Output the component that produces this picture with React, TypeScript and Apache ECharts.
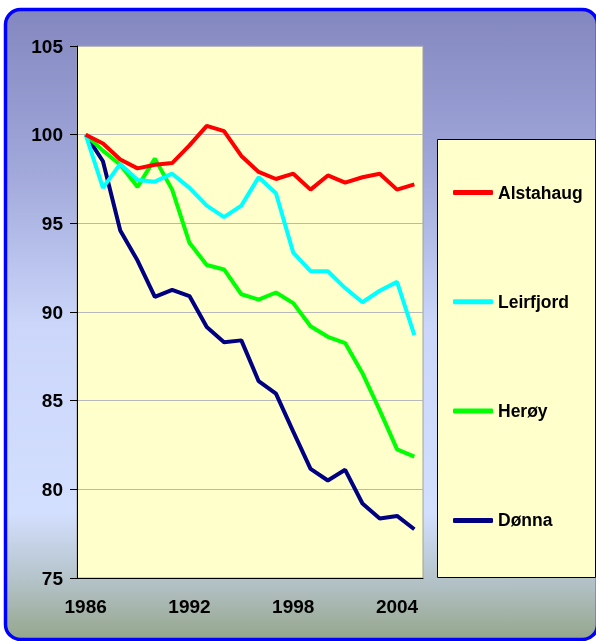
import React, { useEffect, useRef } from "react";
import * as echarts from "echarts";

const years = [
  "1986", "1987", "1988", "1989", "1990", "1991", "1992", "1993", "1994", "1995",
  "1996", "1997", "1998", "1999", "2000", "2001", "2002", "2003", "2004", "2005",
];

const alstahaug = [100, 99.5, 98.6, 98.1, 98.3, 98.4, 99.4, 100.5, 100.2, 98.8, 97.9, 97.5, 97.8, 96.9, 97.7, 97.3, 97.6, 97.8, 96.9, 97.2];
const leirfjord = [100, 97.0, 98.35, 97.45, 97.35, 97.8, 97.0, 96.0, 95.35, 96.0, 97.6, 96.7, 93.35, 92.3, 92.3, 91.35, 90.55, 91.2, 91.7, 88.7];
const heroy = [100, 99.1, 98.3, 97.05, 98.65, 96.9, 93.9, 92.65, 92.4, 91.0, 90.7, 91.1, 90.5, 89.2, 88.6, 88.25, 86.55, 84.45, 82.25, 81.85];
const donna = [100, 98.5, 94.6, 92.9, 90.85, 91.25, 90.9, 89.15, 88.3, 88.4, 86.1, 85.4, 83.25, 81.15, 80.5, 81.1, 79.2, 78.35, 78.5, 77.75];

const seriesNames = ["Alstahaug", "Leirfjord", "Herøy", "Dønna"];
const seriesColors = ["#ff0000", "#00ffff", "#00ff00", "#000080"];
const seriesData = [alstahaug, leirfjord, heroy, donna];

const FONT = "'Liberation Sans', Arial, sans-serif";

export default function App() {
  const ref = useRef<HTMLDivElement>(null);

  useEffect(() => {
    if (!ref.current) return;
    const chart = echarts.init(ref.current, null, { renderer: "svg" });
    chart.setOption({
      animation: false,
      graphic: {
        elements: [
          {
            type: "rect",
            z: -10,
            silent: true,
            shape: { x: 5.5, y: 9.5, width: 592, height: 630, r: 15 },
            style: {
              fill: new echarts.graphic.LinearGradient(0, 0, 0, 1, [
                { offset: 0, color: "#8387bf" },
                { offset: 0.25, color: "#a0a7d9" },
                { offset: 0.5, color: "#cbd6fa" },
                { offset: 0.8, color: "#d3dffe" },
                { offset: 0.9, color: "#b6c4cc" },
                { offset: 1, color: "#95a68c" },
              ]),
              stroke: "#0000ff",
              lineWidth: 3.5,
            },
          },
          {
            type: "rect",
            z: -5,
            silent: true,
            shape: { x: 437.5, y: 139.5, width: 158, height: 438 },
            style: { fill: "#ffffcc", stroke: "#000000", lineWidth: 1 },
          },
        ],
      },
      grid: {
        left: 77,
        top: 46,
        right: 173,
        bottom: 63,
        show: true,
        backgroundColor: "#ffffcc",
        borderColor: "#a0a0a0",
        borderWidth: 1,
      },
      legend: {
        orient: "vertical",
        left: 453,
        top: 183.5,
        padding: 0,
        itemGap: 91.3,
        itemWidth: 40,
        itemHeight: 5,
        icon: "roundRect",
        data: seriesNames,
        textStyle: {
          fontFamily: FONT,
          fontWeight: "bold",
          fontSize: 17.5,
          lineHeight: 16,
          color: "#000000",
        },
      },
      xAxis: {
        type: "category",
        data: years,
        boundaryGap: true,
        axisLine: { lineStyle: { color: "#000000", width: 1 } },
        axisTick: { interval: 0, length: 6, lineStyle: { color: "#000000" } },
        axisLabel: {
          interval: 5,
          margin: 19,
          fontFamily: FONT,
          fontWeight: "bold",
          fontSize: 19,
          color: "#000000",
        },
        splitLine: { show: false },
      },
      yAxis: {
        type: "value",
        min: 75,
        max: 105,
        interval: 5,
        axisLine: { show: true, lineStyle: { color: "#000000", width: 1 } },
        axisTick: { show: true, length: 7, lineStyle: { color: "#000000" } },
        axisLabel: {
          margin: 14,
          fontFamily: FONT,
          fontWeight: "bold",
          fontSize: 19,
          color: "#000000",
        },
        splitLine: { show: true, lineStyle: { color: "#b8b8b8", width: 1 } },
      },
      series: seriesNames.map((name, i) => ({
        name,
        type: "line",
        data: seriesData[i],
        symbol: "none",
        lineStyle: { color: seriesColors[i], width: 4 },
        itemStyle: { color: seriesColors[i] },
        z: 10 - i,
      })),
    });
    return () => chart.dispose();
  }, []);

  return (
    <div
      ref={ref}
      style={{ position: "fixed", left: 0, top: 0, width: 596, height: 641 }}
    />
  );
}
